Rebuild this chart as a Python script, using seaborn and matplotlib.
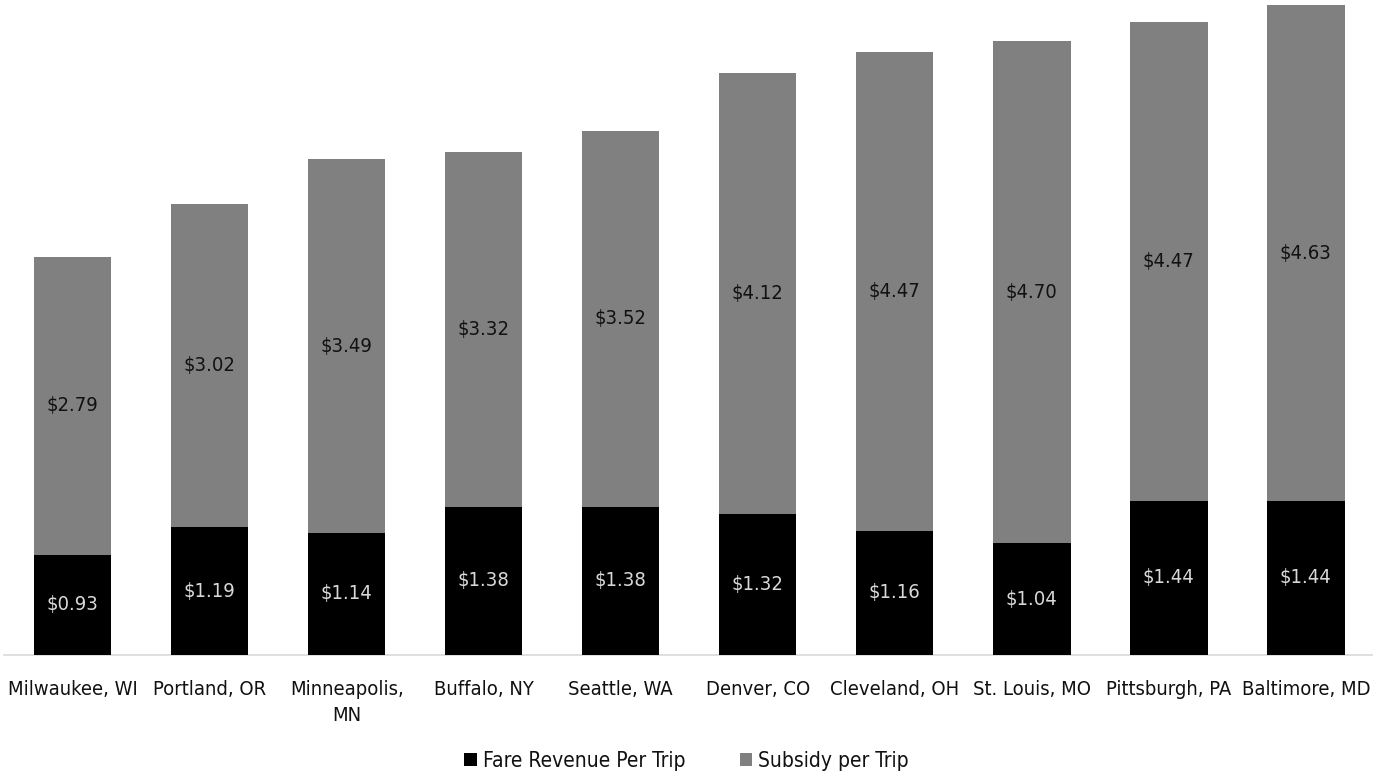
import matplotlib
matplotlib.use("Agg")
import matplotlib.pyplot as plt
from matplotlib import font_manager
import seaborn as sns
import pandas as pd

cities = ["Milwaukee, WI", "Portland, OR", "Minneapolis,\nMN", "Buffalo, NY", "Seattle, WA",
          "Denver, CO", "Cleveland, OH", "St. Louis, MO", "Pittsburgh, PA", "Baltimore, MD"]
fare = [0.93, 1.19, 1.14, 1.38, 1.38, 1.32, 1.16, 1.04, 1.44, 1.44]
subsidy = [2.79, 3.02, 3.49, 3.32, 3.52, 4.12, 4.47, 4.70, 4.47, 4.63]
series_names = ["Fare Revenue Per Trip", "Subsidy per Trip"]

sns.set_theme(style="white")
names = {f.name for f in font_manager.fontManager.ttflist}
if "Liberation Sans Narrow" in names:
    plt.rcParams["font.family"] = ["Liberation Sans Narrow", "DejaVu Sans"]
    stretch = "normal"
else:
    plt.rcParams["font.family"] = ["DejaVu Sans"]
    stretch = "condensed"

fig = plt.figure(figsize=(13.73, 7.73), dpi=100)
ax = fig.add_axes([0.003, 0.153, 1.0, 0.847])

df = pd.DataFrame({"city": cities, "fare": fare, "subsidy": subsidy})
df["total"] = df["fare"] + df["subsidy"]

bw = 0.565
sns.barplot(data=df, x="city", y="total", color="#808080", width=bw, ax=ax,
            saturation=1, label=series_names[1], linewidth=0, zorder=2)
sns.barplot(data=df, x="city", y="fare", color="#000000", width=bw, ax=ax,
            saturation=1, label=series_names[0], linewidth=0, zorder=3)
if ax.get_legend() is not None:
    ax.get_legend().remove()

for i, (f, s) in enumerate(zip(fare, subsidy)):
    ax.text(i, f / 2, f"${f:.2f}", ha="center", va="center", color="#d9d9d9",
            fontsize=14.5, fontstretch=stretch, zorder=4)
    ax.text(i, f + s / 2, f"${s:.2f}", ha="center", va="center", color="#111111",
            fontsize=14.5, fontstretch=stretch, zorder=4)

ax.set_ylim(0, 6.12)
ax.set_xlim(-0.5, 9.52)
ax.set_xlabel("")
ax.set_ylabel("")
ax.set_yticks([])
for side in ["top", "right", "left"]:
    ax.spines[side].set_visible(False)
ax.spines["bottom"].set_color("#d9d9d9")
ax.spines["bottom"].set_linewidth(1.2)
ax.tick_params(axis="x", length=0, pad=18)
for lab in ax.get_xticklabels():
    lab.set_fontsize(14.5)
    lab.set_fontstretch(stretch)
    lab.set_color("#111111")
    lab.set_linespacing(1.5)
    lab.set_va("top")

handles, labels = ax.get_legend_handles_labels()
order = [labels.index(n) for n in series_names]
leg = fig.legend([handles[k] for k in order], [labels[k] for k in order],
                 loc="center", bbox_to_anchor=(0.5, 0.016), ncol=2, frameon=False,
                 handlelength=0.6, handleheight=0.6, handletextpad=0.3, columnspacing=2.6,
                 prop={"size": 15, "stretch": stretch})
for t in leg.get_texts():
    t.set_color("#111111")

fig.savefig("out.png", dpi=100)
